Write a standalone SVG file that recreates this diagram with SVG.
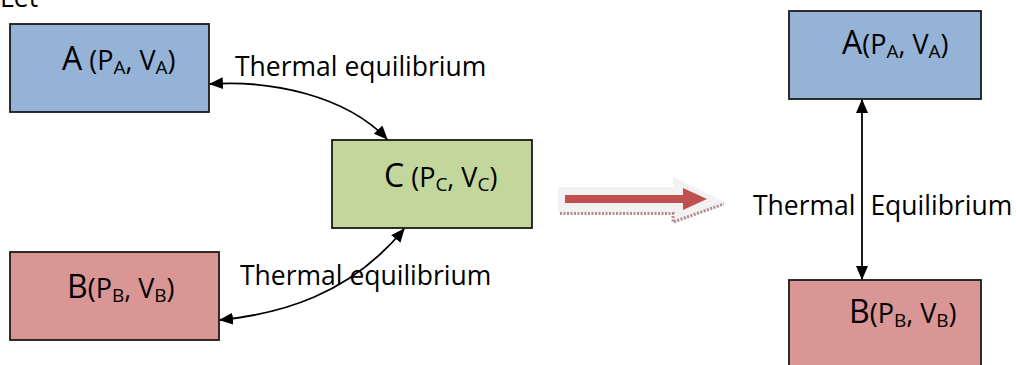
<svg xmlns="http://www.w3.org/2000/svg" width="1016" height="365" viewBox="0 0 1016 365">
  <defs>
    <marker id="ah" viewBox="0 0 14 12" refX="13" refY="6" markerWidth="14" markerHeight="12" markerUnits="userSpaceOnUse" orient="auto-start-reverse">
      <path d="M0,0 L14,6 L0,12 Z" fill="#000"/>
    </marker>
  </defs>
  <style>
    text { font-family: "Open Sans", "Noto Sans", sans-serif; fill: #000; }
    .lbl { font-size: 26.5px; }
    .big { font-size: 32px; }
    .mid { font-size: 27px; }
    .sub { font-size: 19px; }
    .box { stroke: #1a1a1a; stroke-width: 1.8; }
    .blue { fill: #95B3D7; }
    .green { fill: #C3D69B; }
    .red { fill: #D99694; }
    .conn { fill: none; stroke: #000; stroke-width: 1.8; marker-start: url(#ah); marker-end: url(#ah); }
  </style>
  <rect width="1016" height="365" fill="#fff"/>
  <text x="0" y="7" class="lbl">Let</text>

  <g id="nodeA">
    <rect class="box blue" x="10" y="24" width="199" height="88"/>
    <text x="62" y="70"><tspan class="big">A</tspan><tspan class="mid"> (P</tspan><tspan class="sub" dy="4">A</tspan><tspan class="mid" dy="-4">, V</tspan><tspan class="sub" dy="4">A</tspan><tspan class="mid" dy="-4">)</tspan></text>
  </g>
  <g id="nodeC">
    <rect class="box green" x="332" y="140" width="200" height="88"/>
    <text x="384" y="187"><tspan class="big">C</tspan><tspan class="mid"> (P</tspan><tspan class="sub" dy="4">C</tspan><tspan class="mid" dy="-4">, V</tspan><tspan class="sub" dy="4">C</tspan><tspan class="mid" dy="-4">)</tspan></text>
  </g>
  <g id="nodeB">
    <rect class="box red" x="10" y="252" width="209" height="88"/>
    <text x="67" y="298"><tspan class="big">B</tspan><tspan class="mid">(P</tspan><tspan class="sub" dy="4">B</tspan><tspan class="mid" dy="-4">, V</tspan><tspan class="sub" dy="4">B</tspan><tspan class="mid" dy="-4">)</tspan></text>
  </g>
  <g id="nodeA2">
    <rect class="box blue" x="789" y="11" width="192" height="88"/>
    <text x="842" y="54"><tspan class="big">A</tspan><tspan class="mid">(P</tspan><tspan class="sub" dy="4">A</tspan><tspan class="mid" dy="-4">, V</tspan><tspan class="sub" dy="4">A</tspan><tspan class="mid" dy="-4">)</tspan></text>
  </g>
  <g id="nodeB2">
    <rect class="box red" x="789" y="280" width="192" height="95"/>
    <text x="849" y="323"><tspan class="big">B</tspan><tspan class="mid">(P</tspan><tspan class="sub" dy="4">B</tspan><tspan class="mid" dy="-4">, V</tspan><tspan class="sub" dy="4">B</tspan><tspan class="mid" dy="-4">)</tspan></text>
  </g>

  <g id="bigArrow">
    <polygon points="558,187 673,187 673,177 727,203 673,225 673,213 558,213" fill="#F2F2F2"/>
    <polyline points="560,213.5 673,213.5 673,222 724,204" fill="none" stroke="#B08C8C" stroke-width="3" stroke-dasharray="2,1.5"/>
    <polygon points="565,195 683,195 683,188 707,199 683,210 683,203 565,203" fill="#C0504D"/>
  </g>

  <g id="connectors">
    <path class="conn" d="M210,84 C270,80 345,95 387,139"/>
    <path class="conn" d="M220,320 C280,314 350,295 404,229"/>
    <path class="conn" d="M862,100 L862,279"/>
  </g>

  <g id="labels">
    <text class="lbl" x="235" y="76">Thermal equilibrium</text>
    <text class="lbl" x="240" y="285">Thermal equilibrium</text>
    <text class="lbl" x="753" y="215" word-spacing="8">Thermal Equilibrium</text>
  </g>
</svg>
